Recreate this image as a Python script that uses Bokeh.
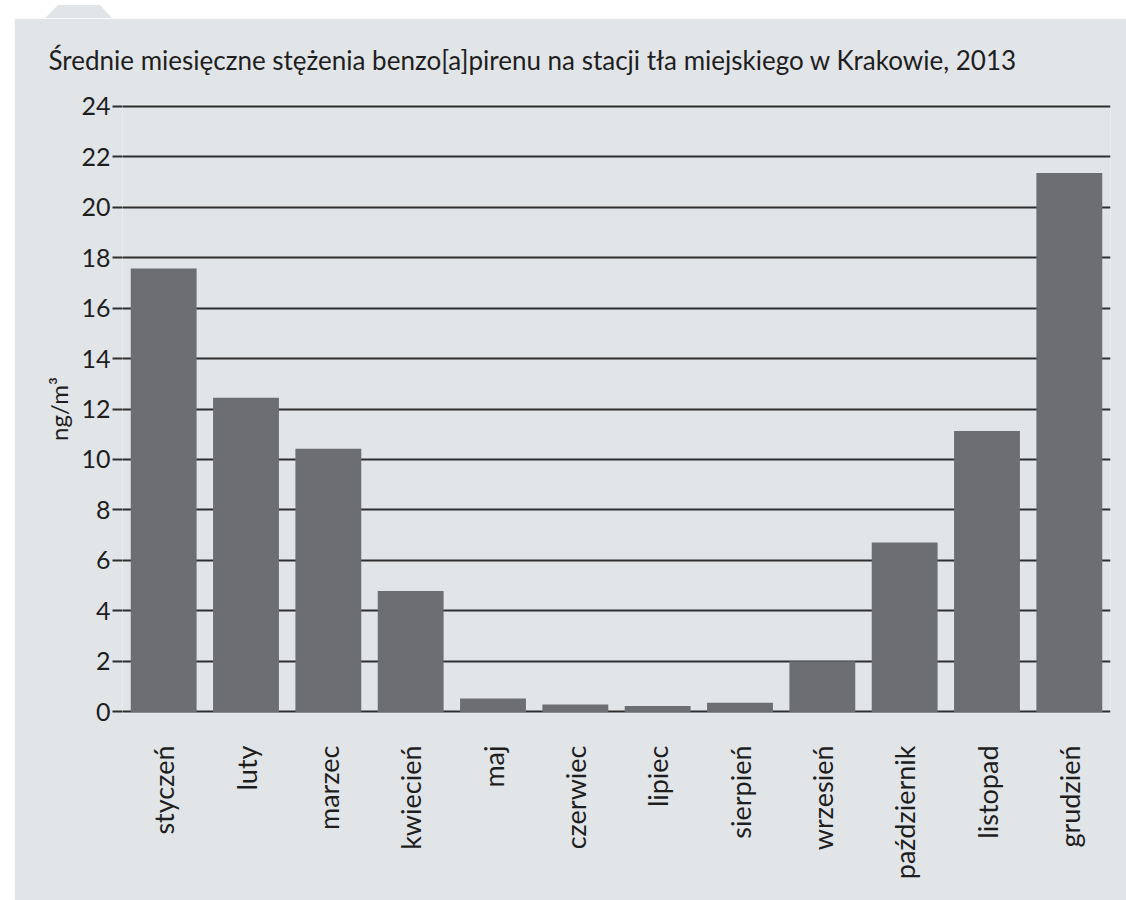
import math
from bokeh.plotting import figure
from bokeh.models import Div, Spacer, ColumnDataSource, FixedTicker, Title
from bokeh.layouts import column, row
from bokeh.embed import file_html
from bokeh.resources import INLINE

months = ["styczeń", "luty", "marzec", "kwiecień", "maj", "czerwiec", "lipiec",
          "sierpień", "wrzesień", "październik", "listopad", "grudzień"]
values = [17.56, 12.45, 10.43, 4.79, 0.53, 0.30, 0.24, 0.37, 2.01, 6.71, 11.13, 21.35]
y_ticks = [0, 2, 4, 6, 8, 10, 12, 14, 16, 18, 20, 22, 24]
title_text = "Średnie miesięczne stężenia benzo[a]pirenu na stacji tła miejskiego w Krakowie, 2013"
y_label = "ng/m³"

BG = "#e2e5e8"
BAR = "#6c6e71"
TXT = "#1e1e1e"
GRID = "#2e2e2e"
FONT = "Lato"

src = ColumnDataSource(dict(month=months, value=values))

p = figure(x_range=months, y_range=(-0.06, 24.06), width=1112, height=882,
           output_backend="svg", toolbar_location=None,
           min_border_left=108, min_border_right=16, min_border_top=86, min_border_bottom=187,
           background_fill_color=BG, border_fill_color=BG, outline_line_color=None)

p.vbar(x="month", top="value", bottom=0, width=0.8, source=src,
       fill_color=BAR, line_color=None)

# spacer between the title and the frame
p.add_layout(Title(text=" ", text_font=FONT, text_font_size="21px", standoff=0), "above")

p.title.text = title_text
p.title.align = "left"
p.title.offset = -74
p.title.text_font = FONT
p.title.text_font_size = "26px"
p.title.text_font_style = "normal"
p.title.text_color = TXT
p.title.standoff = 4

p.xgrid.grid_line_color = None
p.ygrid.ticker = FixedTicker(ticks=y_ticks)
p.ygrid.grid_line_color = GRID
p.ygrid.grid_line_width = 1.8

p.yaxis.ticker = FixedTicker(ticks=y_ticks)
p.yaxis.axis_line_color = None
p.yaxis.major_tick_in = 0
p.yaxis.major_tick_out = 10
p.yaxis.major_tick_line_color = GRID
p.yaxis.major_tick_line_width = 1.8
p.yaxis.minor_tick_line_color = None
p.yaxis.major_label_standoff = 2
p.yaxis.major_label_text_font = FONT
p.yaxis.major_label_text_font_size = "25px"
p.yaxis.major_label_text_color = TXT
p.yaxis.axis_label = y_label
p.yaxis.axis_label_text_font = FONT
p.yaxis.axis_label_text_font_size = "24px"
p.yaxis.axis_label_text_font_style = "normal"
p.yaxis.axis_label_text_color = TXT
p.yaxis.axis_label_standoff = 5

p.xaxis.axis_line_color = None
p.xaxis.major_tick_line_color = None
p.xaxis.minor_tick_line_color = None
p.xaxis.major_label_orientation = math.pi / 2
p.xaxis.major_label_standoff = 26
p.xaxis.major_label_text_font = FONT
p.xaxis.major_label_text_font_size = "27px"
p.xaxis.major_label_text_color = TXT

tab = Div(text='<div style="width:67px;height:13px;margin-top:5px;margin-left:45px;background:%s;'
               'clip-path:polygon(13px 0,55px 0,67px 13px,0 13px)"></div>' % BG,
          width=120, height=18, margin=0)

layout = column(tab, row(Spacer(width=14, height=882), p, spacing=0), spacing=0)

open("out.html", "w").write(file_html(layout, INLINE))
